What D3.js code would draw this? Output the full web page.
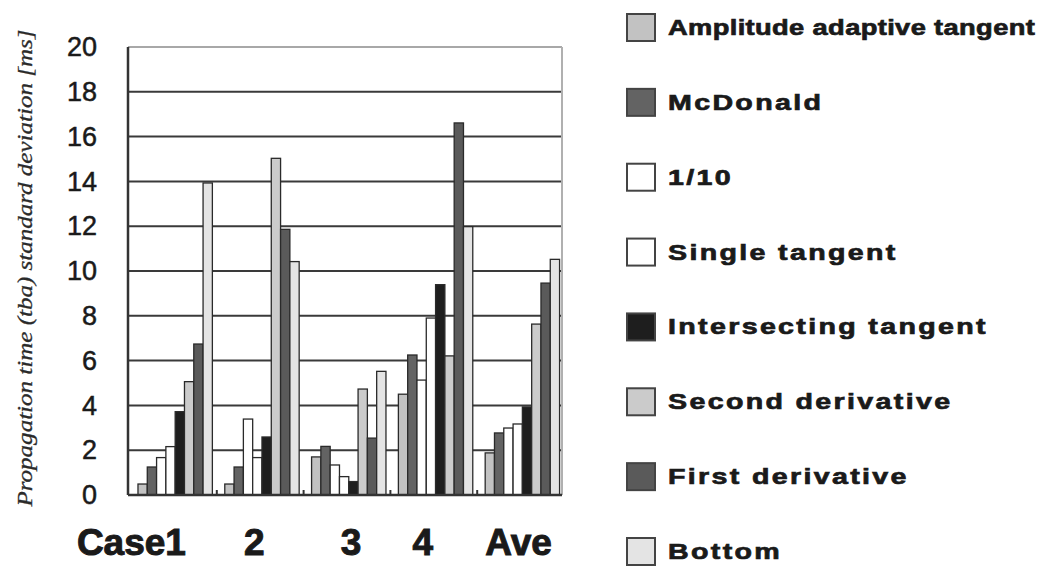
<!DOCTYPE html>
<html>
<head>
<meta charset="utf-8">
<script src="https://cdn.jsdelivr.net/npm/d3@7"></script>
<style>
  html, body { margin: 0; padding: 0; background: #fff; overflow: hidden; }
  svg { display: block; }
</style>
</head>
<body>
<svg id="chart" width="1061" height="585"></svg>
<script>
// ---- data ----
const categories = ["Case1", "2", "3", "4", "Ave"];
const seriesNames = ["Amplitude adaptive tangent", "McDonald", "1/10", "Single tangent",
  "Intersecting tangent", "Second derivative", "First derivative", "Bottom"];
const amplitudeAdaptive = [0.49, 0.49, 1.70, 4.50, 1.88];
const mcDonald          = [1.25, 1.25, 2.17, 6.25, 2.77];
const oneTenth          = [1.67, 3.39, 1.34, 5.13, 2.99];
const singleTangent     = [2.16, 1.67, 0.82, 7.90, 3.17];
const intersecting      = [3.72, 2.59, 0.60, 9.39, 3.93];
const secondDerivative  = [5.06, 15.03, 4.73, 6.21, 7.63];
const firstDerivative   = [6.74, 11.86, 2.54, 16.61, 9.46];
const bottom            = [13.93, 10.42, 5.52, 11.98, 10.52];
const seriesValues = [amplitudeAdaptive, mcDonald, oneTenth, singleTangent,
  intersecting, secondDerivative, firstDerivative, bottom];
const yTicks = [0, 2, 4, 6, 8, 10, 12, 14, 16, 18, 20];
const yTitle = "Propagation time (tba) standard deviation [ms]";

// ---- styles ----
const fills = ["#c2c2c2", "#636363", "#ffffff", "#ffffff", "#1e1e1e", "#cbcbcb", "#5a5a5a", "#e4e4e4"];
const labelDx = [-40, -4, 6, -9, 0];

const svg = d3.select("#chart");
const plot = { left: 128, right: 562, top: 47, bottom: 495 };

const x0 = d3.scaleBand().domain(categories).range([plot.left, plot.right]).padding(0);
const bw = x0.bandwidth();
const x1 = d3.scaleBand().domain(seriesNames).range([bw * 0.115, bw * 0.972]).padding(0);
const y = d3.scaleLinear().domain([0, 20]).range([plot.bottom, plot.top]);

// gridlines
svg.append("g").selectAll("line").data(yTicks.filter(t => t > 0 && t < 20)).join("line")
  .attr("x1", plot.left).attr("x2", plot.right)
  .attr("y1", d => y(d)).attr("y2", d => y(d))
  .attr("stroke", "#3a3a3a").attr("stroke-width", 2);

// top & right border (light)
svg.append("line").attr("x1", plot.left).attr("x2", plot.right)
  .attr("y1", y(20)).attr("y2", y(20)).attr("stroke", "#a8a8a8").attr("stroke-width", 2);
svg.append("line").attr("x1", plot.right).attr("x2", plot.right)
  .attr("y1", y(20)).attr("y2", y(0)).attr("stroke", "#b0b0b0").attr("stroke-width", 2);

// bars
const groups = svg.append("g").selectAll("g").data(categories).join("g")
  .attr("transform", c => `translate(${x0(c)},0)`);
groups.selectAll("rect")
  .data((c, ci) => seriesNames.map((s, si) => ({ s, si, v: seriesValues[si][ci] })))
  .join("rect")
  .attr("x", d => x1(d.s))
  .attr("y", d => y(d.v))
  .attr("width", x1.bandwidth())
  .attr("height", d => y(0) - y(d.v))
  .attr("fill", d => fills[d.si])
  .attr("stroke", "#2a2a2a").attr("stroke-width", 1.3);

// category boundary ticks
svg.append("g").selectAll("line").data(categories.slice(1)).join("line")
  .attr("x1", c => x0(c) + 2).attr("x2", c => x0(c) + 2)
  .attr("y1", y(0)).attr("y2", y(0) - 5)
  .attr("stroke", "#333").attr("stroke-width", 2);

// axes lines
svg.append("line").attr("x1", plot.left).attr("x2", plot.left)
  .attr("y1", y(20)).attr("y2", y(0)).attr("stroke", "#333").attr("stroke-width", 2.5);
svg.append("line").attr("x1", plot.left).attr("x2", plot.right)
  .attr("y1", y(0)).attr("y2", y(0)).attr("stroke", "#333").attr("stroke-width", 2.5);

// y tick labels
const yAxis = d3.axisLeft(y).tickValues(yTicks).tickSize(0).tickPadding(31);
const ya = svg.append("g").attr("transform", `translate(${plot.left},0)`).call(yAxis);
ya.select(".domain").remove();
ya.selectAll("text").attr("font-family", "Liberation Sans, Arial, sans-serif")
  .attr("font-size", 27).attr("fill", "#1a1a1a")
  .attr("stroke", "#1a1a1a").attr("stroke-width", 0.5);

// x labels
svg.append("g").selectAll("text").data(categories).join("text")
  .attr("x", (c, i) => x0(c) + bw / 2 + labelDx[i])
  .attr("y", 555)
  .attr("text-anchor", "middle")
  .attr("font-family", "Liberation Sans, Arial, sans-serif")
  .attr("font-weight", "bold").attr("font-size", 37).attr("fill", "#1a1a1a")
  .attr("stroke", "#1a1a1a").attr("stroke-width", 1)
  .text(c => c);

// y title
svg.append("text")
  .attr("transform", "translate(32,268) rotate(-90)")
  .attr("text-anchor", "middle")
  .attr("font-family", "Liberation Serif, Times New Roman, serif")
  .attr("font-style", "italic").attr("font-size", 22).attr("fill", "#2a2a2a")
  .attr("stroke", "#2a2a2a").attr("stroke-width", 0.3)
  .attr("textLength", 477).attr("lengthAdjust", "spacingAndGlyphs")
  .text(yTitle);

// legend
const legY = d3.scalePoint().domain(seriesNames).range([27, 551]);
const leg = svg.append("g").selectAll("g").data(seriesNames).join("g")
  .attr("transform", s => `translate(0,${legY(s)})`);
leg.append("rect")
  .attr("x", 627).attr("y", -13).attr("width", 28).attr("height", 27)
  .attr("fill", (s, i) => fills[i]).attr("stroke", "#444").attr("stroke-width", 2);
leg.append("text")
  .attr("transform", (s, i) => i === 0 ? "translate(668,8) scale(1.24,1)" : "translate(668,8) scale(1.3,1)")
  .attr("font-family", "Liberation Sans, Arial, sans-serif")
  .attr("font-weight", "bold").attr("font-size", 22)
  .attr("letter-spacing", (s, i) => i === 0 ? 0.3 : 1.8)
  .attr("fill", "#1a1a1a").attr("stroke", "#1a1a1a").attr("stroke-width", 0.7)
  .text(s => s);
</script>
</body>
</html>
